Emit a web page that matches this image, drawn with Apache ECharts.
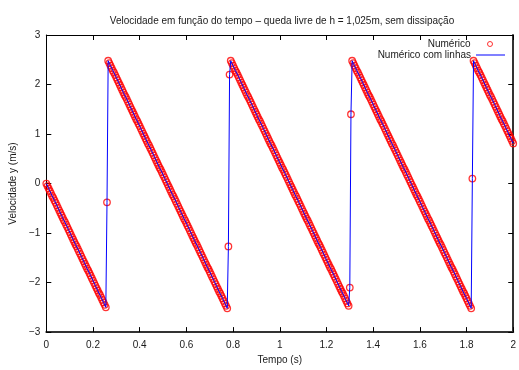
<!DOCTYPE html>
<html><head><meta charset="utf-8">
<script src="https://cdn.jsdelivr.net/npm/echarts/dist/echarts.min.js"></script>
<style>html,body{margin:0;padding:0;background:#fff}#c{width:519px;height:370px}</style>
</head><body><div id="c"></div>
<script>
const TITLE = 'Velocidade em função do tempo – queda livre de h = 1,025m, sem dissipação';
const X_NAME = 'Tempo (s)';
const Y_NAME = 'Velocidade y (m/s)';
const SERIES_POINTS = 'Numérico';
const SERIES_LINE = 'Numérico com linhas';
const T_START = 0;
const T_STEP = 0.005;
const X_TICKS = [0, 0.2, 0.4, 0.6, 0.8, 1, 1.2, 1.4, 1.6, 1.8, 2];
const Y_TICKS = [-3, -2, -1, 0, 1, 2, 3];

const fall1 = [0,-0.05,-0.10,-0.15,-0.20,-0.25,-0.29,-0.34,-0.39,-0.44,-0.49,-0.54,-0.59,-0.64,-0.69,-0.74,-0.78,-0.83,-0.88,-0.93,-0.98,-1.03,-1.08,-1.13,-1.18,-1.23,-1.27,-1.32,-1.37,-1.42,-1.47,-1.52,-1.57,-1.62,-1.67,-1.72,-1.76,-1.81,-1.86,-1.91,-1.96,-2.01,-2.06,-2.11,-2.16,-2.21,-2.25,-2.30,-2.35,-2.40,-2.45,-2.50];
const bounce1 = [-0.38];
const fall2 = [2.48,2.43,2.38,2.33,2.28,2.24,2.19,2.14,2.09,2.04,
1.99,1.94,1.89,1.84,1.79,1.75,1.70,1.65,1.60,1.55,
1.50,1.45,1.40,1.35,1.30,1.26,1.21,1.16,1.11,1.06,
1.01,0.96,0.91,0.86,0.81,0.77,0.72,0.67,0.62,0.57,
0.52,0.47,0.42,0.37,0.32,0.28,0.23,0.18,0.13,0.08,
0.03,-0.02,-0.07,-0.12,-0.17,-0.22,-0.26,-0.31,-0.36,-0.41,
-0.46,-0.51,-0.56,-0.61,-0.66,-0.71,-0.75,-0.80,-0.85,-0.90,
-0.95,-1.00,-1.05,-1.10,-1.15,-1.20,-1.24,-1.29,-1.34,-1.39,
-1.44,-1.49,-1.54,-1.59,-1.64,-1.69,-1.73,-1.78,-1.83,-1.88,
-1.93,-1.98,-2.03,-2.08,-2.13,-2.18,-2.22,-2.27,-2.32,-2.37,
-2.42,-2.47,-2.52];
const bounce2 = [-1.27, 2.20];
const fall3 = [2.48,2.43,2.38,2.33,2.28,2.24,2.19,2.14,2.09,2.04,
1.99,1.94,1.89,1.84,1.79,1.75,1.70,1.65,1.60,1.55,
1.50,1.45,1.40,1.35,1.30,1.26,1.21,1.16,1.11,1.06,
1.01,0.96,0.91,0.86,0.81,0.77,0.72,0.67,0.62,0.57,
0.52,0.47,0.42,0.37,0.32,0.28,0.23,0.18,0.13,0.08,
0.03,-0.02,-0.07,-0.12,-0.17,-0.22,-0.26,-0.31,-0.36,-0.41,
-0.46,-0.51,-0.56,-0.61,-0.66,-0.71,-0.75,-0.80,-0.85,-0.90,
-0.95,-1.00,-1.05,-1.10,-1.15,-1.20,-1.24,-1.29,-1.34,-1.39,
-1.44,-1.49,-1.54,-1.59,-1.64,-1.69,-1.73,-1.78,-1.83,-1.88,
-1.93,-1.98,-2.03,-2.08,-2.13,-2.18,-2.22,-2.27,-2.32,-2.37,
-2.42,-2.47];
const bounce3 = [-2.10, 1.40];
const fall4 = [2.48,2.43,2.38,2.33,2.28,2.24,2.19,2.14,2.09,2.04,
1.99,1.94,1.89,1.84,1.79,1.75,1.70,1.65,1.60,1.55,
1.50,1.45,1.40,1.35,1.30,1.26,1.21,1.16,1.11,1.06,
1.01,0.96,0.91,0.86,0.81,0.77,0.72,0.67,0.62,0.57,
0.52,0.47,0.42,0.37,0.32,0.28,0.23,0.18,0.13,0.08,
0.03,-0.02,-0.07,-0.12,-0.17,-0.22,-0.26,-0.31,-0.36,-0.41,
-0.46,-0.51,-0.56,-0.61,-0.66,-0.71,-0.75,-0.80,-0.85,-0.90,
-0.95,-1.00,-1.05,-1.10,-1.15,-1.20,-1.24,-1.29,-1.34,-1.39,
-1.44,-1.49,-1.54,-1.59,-1.64,-1.69,-1.73,-1.78,-1.83,-1.88,
-1.93,-1.98,-2.03,-2.08,-2.13,-2.18,-2.22,-2.27,-2.32,-2.37,
-2.42,-2.47,-2.52];
const bounce4 = [0.10];
const fall5 = [2.48,2.43,2.38,2.33,2.28,2.24,2.19,2.14,2.09,2.04,1.99,1.94,1.89,1.84,1.79,1.75,1.70,1.65,1.60,1.55,1.50,1.45,1.40,1.35,1.30,1.26,1.21,1.16,1.11,1.06,1.01,0.96,0.91,0.86,0.81];

const velocity = [].concat(fall1, bounce1, fall2, bounce2, fall3, bounce3, fall4, bounce4, fall5);
const pts = velocity.map((v, i) => [+(T_START + i * T_STEP).toFixed(3), v]);

const FONT = 'Liberation Sans, Arial, Helvetica, sans-serif';
const TXT = '#1a1a1a';
const fmt = v => { const r = Math.round(v * 10) / 10; return (r < 0 ? '\u2212' : '') + String(Math.abs(r)); };

const baseX = {
  type: 'value', min: X_TICKS[0], max: X_TICKS[X_TICKS.length - 1], interval: 0.2,
  splitLine: { show: false },
  axisTick: { inside: true, length: 5, lineStyle: { color: '#000', width: 1 } }
};
const baseY = {
  type: 'value', min: Y_TICKS[0], max: Y_TICKS[Y_TICKS.length - 1], interval: 1,
  splitLine: { show: false },
  axisTick: { inside: true, length: 5, lineStyle: { color: '#000', width: 1 } }
};

const chart = echarts.init(document.getElementById('c'), null, { renderer: 'canvas' });
chart.setOption({
  animation: false,
  backgroundColor: '#fff',
  graphic: [{
    type: 'text', x: 282, y: 21, silent: true,
    style: { text: TITLE, textAlign: 'center', textVerticalAlign: 'middle', font: '10px ' + FONT, fill: TXT }
  }],
  grid: { left: 45, right: 1, top: 35, bottom: 31, show: false },
  xAxis: [
    Object.assign({}, baseX, {
      position: 'bottom', name: X_NAME, nameLocation: 'middle', nameGap: 20,
      nameTextStyle: { fontFamily: FONT, fontSize: 10, color: TXT },
      axisLine: { onZero: false, lineStyle: { color: '#333', width: 2 } },
      axisLabel: { margin: 8, formatter: fmt, fontFamily: FONT, fontSize: 10, color: TXT }
    }),
    Object.assign({}, baseX, {
      position: 'top',
      axisLine: { onZero: false, lineStyle: { color: '#000', width: 1 } },
      axisLabel: { show: false }
    })
  ],
  yAxis: [
    Object.assign({}, baseY, {
      position: 'left', name: Y_NAME, nameLocation: 'middle', nameGap: 24,
      nameTextStyle: { fontFamily: FONT, fontSize: 10, color: TXT },
      axisLine: { onZero: false, lineStyle: { color: '#000', width: 1 } },
      axisLabel: { margin: 6, formatter: fmt, fontFamily: FONT, fontSize: 10, color: TXT }
    }),
    Object.assign({}, baseY, {
      position: 'right',
      axisLine: { onZero: false, lineStyle: { color: '#333', width: 2 } },
      axisLabel: { show: false }
    })
  ],
  legend: [
    { data: [{ name: SERIES_POINTS, icon: 'circle',
               itemStyle: { color: 'rgba(255,255,255,0)', borderColor: '#ff0000', borderWidth: 1 } }],
      right: 26, top: 39, orient: 'vertical', align: 'right', padding: 0,
      itemWidth: 29, itemHeight: 5, selectedMode: false,
      textStyle: { fontFamily: FONT, fontSize: 10, color: TXT } },
    { data: [{ name: SERIES_LINE, icon: 'rect', itemStyle: { color: '#0000ff', borderWidth: 0 } }],
      right: 14, top: 50, orient: 'vertical', align: 'right', padding: 0,
      itemWidth: 29, itemHeight: 1, selectedMode: false,
      textStyle: { fontFamily: FONT, fontSize: 10, color: TXT } }
  ],
  series: [
    { type: 'scatter', name: SERIES_POINTS, data: pts, symbol: 'circle', symbolSize: 6.5, z: 2,
      itemStyle: { color: 'rgba(255,255,255,0)', borderColor: '#ff0000', borderWidth: 1.3 } },
    { type: 'line', name: SERIES_LINE, data: pts, symbol: 'none', showSymbol: false, z: 3,
      lineStyle: { color: '#0000ff', width: 1 }, itemStyle: { color: '#0000ff' } }
  ]
});
</script>
</body></html>
